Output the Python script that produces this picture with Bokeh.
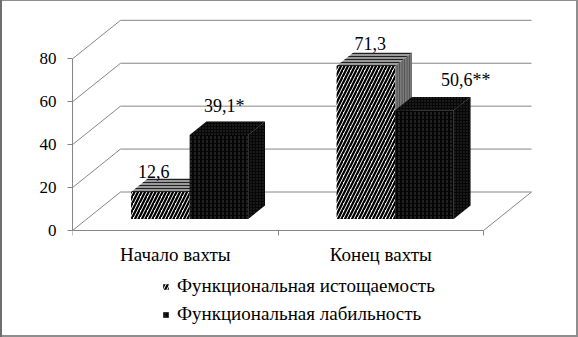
from bokeh.plotting import figure
from bokeh.models import Range1d, FixedTicker, LinearAxis, Legend, LegendItem, ColumnDataSource
from bokeh.embed import file_html
from bokeh.resources import INLINE
from bokeh.core.properties import value

# ---------------- data ----------------
categories = ["Начало вахты", "Конец вахты"]
series_names = ["Функциональная истощаемость", "Функциональная лабильность"]
exhaustion = [12.6, 71.3]
lability = [39.1, 50.6]
exhaustion_labels = ["12,6", "71,3"]
lability_labels = ["39,1*", "50,6**"]
y_ticks = [0, 20, 40, 60, 80]

# ---------------- geometry / style ----------------
FONT = "Liberation Serif"
FS = "18px"
FS_CAT = "19px"
FS_AXIS = "17px"
W, H = 578, 337
LEFT, BOTTOM = 72, 6
ZERO_PX = 230         # distance of value 0 from the top edge
PX_X = 205.5          # pixels per category
PX_Y = 2.146          # pixels per value unit
WALL_DX = 48 / PX_X   # depth of the 3-D box (in data units)
WALL_DY = 38.5 / PX_Y
BAR_W = 0.285
FRONT_D, BACK_D = 0.30, 0.65
GRID = "#868686"

# per-label pixel offsets (dx, dy) from the centre of the bar top
label_offsets = [[(-15, -14), (-4, -16)], [(-3, -22), (33, -24)]]

frame_h = H - BOTTOM
p = figure(width=W, height=H, output_backend="svg", toolbar_location=None,
           x_range=Range1d(0, (W - LEFT) / PX_X),
           y_range=Range1d(-(frame_h - ZERO_PX) / PX_Y, ZERO_PX / PX_Y),
           min_border_left=LEFT, min_border_right=0, min_border_top=0,
           min_border_bottom=BOTTOM, x_axis_location=None, y_axis_location=None)
p.grid.visible = False
p.outline_line_color = None
p.background_fill_alpha = 0
p.border_fill_alpha = 0
p.styles = {"background-color": "white",
            "box-shadow": "inset 2px 0 0 #6e6e6e, inset 0 1px 0 #8e8e8e, inset -2px -2px 0 #8e8e8e"}

n_cat = len(categories)

# ---------------- walls / gridlines ----------------
gx0, gy0, gx1, gy1 = [], [], [], []
for v in y_ticks:
    gx0.append(0); gy0.append(v); gx1.append(WALL_DX); gy1.append(v + WALL_DY)
    gx0.append(WALL_DX); gy0.append(v + WALL_DY); gx1.append(n_cat + WALL_DX); gy1.append(v + WALL_DY)
gx0.append(n_cat); gy0.append(0); gx1.append(n_cat + WALL_DX); gy1.append(WALL_DY)
p.segment(gx0, gy0, gx1, gy1, line_color=GRID, line_width=1)

# ---------------- bars ----------------
styles = [
    dict(front=dict(fill_color="white", hatch_pattern="/", hatch_color="black", hatch_scale=7, hatch_weight=2.3),
         top=dict(fill_color="#9a9a9a", hatch_pattern="-", hatch_color="#202020", hatch_scale=3, hatch_weight=1),
         side=dict(fill_color="#7a7a7a", hatch_pattern="|", hatch_color="#4a4a4a", hatch_scale=2.5, hatch_weight=1)),
    dict(front=dict(fill_color="#050505", hatch_pattern=":", hatch_color="#3c3c3c", hatch_scale=4, hatch_weight=1),
         top=dict(fill_color="#070707", hatch_pattern="dot", hatch_color="#383838", hatch_scale=3, hatch_weight=1),
         side=dict(fill_color="#070707", hatch_pattern="dot", hatch_color="#343434", hatch_scale=3, hatch_weight=1)),
]

def sh(d):
    return d * WALL_DX, d * WALL_DY

front_renderers = []
for s, vals in enumerate([exhaustion, lability]):
    fronts_x, fronts_y, tops_x, tops_y, sides_x, sides_y = [], [], [], [], [], []
    for i, v in enumerate(vals):
        x0 = i + 0.5 - BAR_W + s * BAR_W
        x1 = x0 + BAR_W
        fx, fy = sh(FRONT_D)
        bx, by = sh(BACK_D)
        fronts_x.append([x0 + fx, x1 + fx, x1 + fx, x0 + fx])
        fronts_y.append([fy, fy, v + fy, v + fy])
        tops_x.append([x0 + fx, x1 + fx, x1 + bx, x0 + bx])
        tops_y.append([v + fy, v + fy, v + by, v + by])
        sides_x.append([x1 + fx, x1 + bx, x1 + bx, x1 + fx])
        sides_y.append([fy, by, v + by, v + fy])
    p.patches(sides_x, sides_y, line_color=None, **styles[s]["side"])
    p.patches(tops_x, tops_y, line_color=None, **styles[s]["top"])
    r = p.patches(fronts_x, fronts_y, line_color=None, **styles[s]["front"])
    front_renderers.append(r)

# ---------------- data labels ----------------
lx, ly, lt, ldx, ldy = [], [], [], [], []
for s, (vals, labs) in enumerate([(exhaustion, exhaustion_labels), (lability, lability_labels)]):
    for i, v in enumerate(vals):
        mid = (FRONT_D + BACK_D) / 2
        mx, my = sh(mid)
        lx.append(i + 0.5 - BAR_W + s * BAR_W + BAR_W / 2 + mx)
        ly.append(v + my)
        lt.append(labs[i])
        ldx.append(label_offsets[s][i][0])
        ldy.append(label_offsets[s][i][1])
src = ColumnDataSource(dict(x=lx, y=ly, text=lt, dx=ldx, dy=ldy))
p.text("x", "y", text="text", source=src, x_offset="dx", y_offset="dy",
       text_align="center", text_baseline="middle",
       text_font=value(FONT), text_font_size=FS, text_color="black")

# ---------------- category labels ----------------
p.text([i + 0.5 for i in range(n_cat)], [0] * n_cat, text=categories, y_offset=24,
       text_align="center", text_baseline="middle",
       text_font=value(FONT), text_font_size=FS_CAT, text_color="black")

# ---------------- axes ----------------
yaxis = LinearAxis(ticker=FixedTicker(ticks=y_ticks), bounds=(min(y_ticks), max(y_ticks)))
yaxis.axis_line_color = GRID
yaxis.major_tick_line_color = GRID
yaxis.major_tick_out = 5
yaxis.major_tick_in = 0
yaxis.minor_tick_line_color = None
yaxis.major_label_standoff = 11
yaxis.major_label_text_font = FONT
yaxis.major_label_text_font_size = FS_AXIS
yaxis.major_label_text_color = "black"
p.add_layout(yaxis, "left")

xaxis = LinearAxis(ticker=FixedTicker(ticks=[], minor_ticks=list(range(n_cat + 1))),
                   bounds=(0, n_cat), fixed_location=0)
xaxis.axis_line_color = GRID
xaxis.major_tick_line_color = None
xaxis.major_tick_out = 0
xaxis.major_tick_in = 0
xaxis.minor_tick_line_color = GRID
xaxis.minor_tick_out = 5
xaxis.minor_tick_in = 0
xaxis.major_label_standoff = 0
p.add_layout(xaxis, "below")

# ---------------- legend ----------------
legend = Legend(items=[LegendItem(label=series_names[s], renderers=[front_renderers[s]]) for s in range(2)],
                location=(90, 6), orientation="vertical",
                glyph_width=7, glyph_height=7, label_standoff=8, spacing=6,
                label_height=20, padding=0, margin=0,
                label_text_font=FONT, label_text_font_size=FS_CAT, label_text_color="black",
                border_line_color=None, background_fill_alpha=0)
p.add_layout(legend, "center")

open("out.html", "w").write(file_html(p, INLINE))
